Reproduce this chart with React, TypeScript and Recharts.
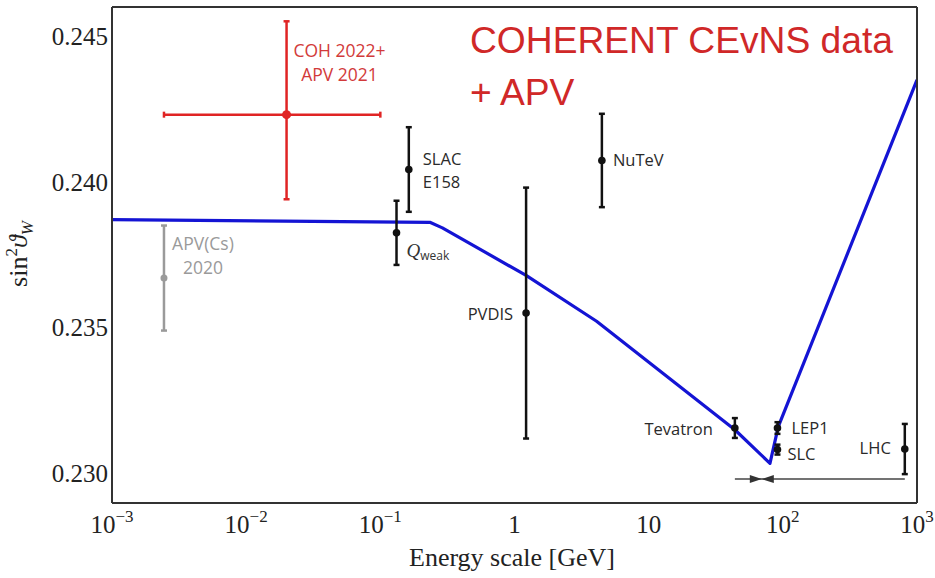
import React from 'react';
import { ComposedChart, XAxis, YAxis, Line, Scatter, ErrorBar, ReferenceDot } from 'recharts';

// axis ticks
const energyTicks = [0.001, 0.01, 0.1, 1, 10, 100, 1000];
const innerEnergyTicks = [0.01, 0.1, 1, 10, 100];
const sinTicks = [0.23, 0.235, 0.24, 0.245];
const minorSinTicks = [
  0.23, 0.231, 0.232, 0.233, 0.234, 0.235, 0.236, 0.237,
  0.238, 0.239, 0.24, 0.241, 0.242, 0.243, 0.244, 0.245,
];

// running sin^2 theta_W prediction
const runE = [0.001, 0.234, 0.29, 1.22, 4.09, 43.9, 80.2, 92.5, 1000];
const runS = [0.23871, 0.23862, 0.23843, 0.2368, 0.23523, 0.23151, 0.23036, 0.23162, 0.2435];

// measurements (black)
const expNames = ['Qweak', 'SLAC E158', 'NuTeV', 'PVDIS', 'Tevatron', 'LEP1', 'SLC', 'LHC'];
const expE = [0.132, 0.163, 4.48, 1.22, 43.9, 91.2, 91.2, 811];
const expS = [0.23826, 0.24043, 0.24074, 0.23551, 0.23157, 0.23157, 0.23083, 0.23085];
const expErr = [0.0011, 0.00145, 0.0016, 0.0043, 0.00034, 0.0002, 0.00017, 0.00086];

// APV(Cs) 2020 (grey)
const apvE = [0.00244];
const apvS = [0.23671];
const apvErr = [0.0018];

// COHERENT 2022 + APV 2021 combined (red)
const cohE = [0.02];
const cohS = [0.24231];
const cohErrDown = [0.0029];
const cohErrUp = [0.0032];
const cohELow = [0.00244];
const cohEHigh = [0.1];

// energy range bar with arrows
const rangeE = [43.9, 811];
const rangeS = [0.22982, 0.22982];
const arrowE = [69.7, 69.7];
const arrowDir = [1, -1];

const runData = runE.map((x, i) => ({ x, y: runS[i] }));
const expData = expE.map((x, i) => ({ x, y: expS[i], err: expErr[i], name: expNames[i] }));
const apvData = apvE.map((x, i) => ({ x, y: apvS[i], err: apvErr[i] }));
const cohData = cohE.map((x, i) => ({
  x,
  y: cohS[i],
  ey: [cohErrDown[i], cohErrUp[i]],
  ex: [x - cohELow[i], cohEHigh[i] - x],
}));
const rangeData = rangeE.map((x, i) => ({ x, y: rangeS[i] }));
const arrowData = arrowE.map((x, i) => ({ x, y: rangeS[0], dir: arrowDir[i] }));

const serif = '"Liberation Serif", "DejaVu Serif", serif';
const sans = '"Open Sans", "DejaVu Sans", sans-serif';
const frame = '#333';
const red = '#e02424';
const grey = '#9a9a9a';

const labelPlace: Record<string, { dx: number; dy: number; anchor: 'start' | 'end' }> = {
  'SLAC E158': { dx: 14, dy: -5, anchor: 'start' },
  NuTeV: { dx: 11, dy: 6, anchor: 'start' },
  PVDIS: { dx: -13, dy: 7, anchor: 'end' },
  Tevatron: { dx: -22, dy: 7, anchor: 'end' },
  LEP1: { dx: 14, dy: 6, anchor: 'start' },
  SLC: { dx: 10, dy: 10, anchor: 'start' },
  LHC: { dx: -14, dy: 5, anchor: 'end' },
};

const EnergyTick = (props: any) => {
  const { x, y, payload } = props;
  const e = Math.round(Math.log10(payload.value));
  const style = { fontFamily: serif, fontSize: 25, fill: '#222' };
  if (e === 0 || e === 1) {
    return (
      <text x={x} y={y + 30} textAnchor="middle" {...style}>
        {e === 0 ? '1' : '10'}
      </text>
    );
  }
  return (
    <text x={x} y={y + 30} textAnchor="middle" {...style}>
      10
      <tspan dy={-11} fontSize={17}>
        {e < 0 ? '\u2212' + -e : String(e)}
      </tspan>
    </text>
  );
};

const SinTick = (props: any) => {
  const { x, y, payload } = props;
  return (
    <text x={x} y={y + 8.5} textAnchor="end" fontFamily={serif} fontSize={25} fill="#222">
      {payload.value.toFixed(3)}
    </text>
  );
};

const dot = (color: string, r: number) => (p: any) => <circle cx={p.cx} cy={p.cy} r={r} fill={color} />;

const ArrowHead = (p: any) => {
  const d = p.payload.dir;
  const len = 12;
  const h = 4;
  return (
    <polygon
      points={`${p.cx},${p.cy} ${p.cx - d * len},${p.cy - h} ${p.cx - d * len},${p.cy + h}`}
      fill="#333"
    />
  );
};

const ExpLabel = (name: string) => (p: any) => {
  if (name === 'Qweak') {
    return (
      <text x={p.cx + 10} y={p.cy + 24} fill="#333">
        <tspan fontFamily={serif} fontStyle="italic" fontSize={19}>Q</tspan>
        <tspan fontFamily={sans} fontSize={12} dy={3}>weak</tspan>
      </text>
    );
  }
  const pl = labelPlace[name];
  const lines = name.split(' ');
  return (
    <text x={p.cx + pl.dx} y={p.cy + pl.dy} textAnchor={pl.anchor} fontFamily={sans} fontSize={16.5} fill="#2a2a2a">
      {lines.map((t, i) => (
        <tspan key={t} x={p.cx + pl.dx} dy={i === 0 ? 0 : 23}>
          {t}
        </tspan>
      ))}
    </text>
  );
};

const StackedLabel = (lines: string[], dx: number, dy: number, color: string) => (p: any) => (
  <text x={p.cx + dx} y={p.cy + dy} textAnchor="middle" fontFamily={sans} fontSize={17.5} fill={color}>
    {lines.map((t, i) => (
      <tspan key={t} x={p.cx + dx} dy={i === 0 ? 0 : 24}>
        {t}
      </tspan>
    ))}
  </text>
);

export default function App() {
  return (
    <div style={{ position: 'absolute', left: 0, top: 0, width: 935, height: 578, background: '#fff' }}>
      <ComposedChart width={935} height={578} margin={{ top: 7, right: 18, bottom: 0, left: 0 }}>
        <XAxis
          type="number"
          dataKey="x"
          scale="log"
          domain={[0.001, 1000]}
          allowDataOverflow
          ticks={energyTicks}
          tick={<EnergyTick />}
          tickLine={false}
          tickSize={0}
          tickMargin={0}
          height={75}
          axisLine={{ stroke: frame, strokeWidth: 2 }}
        />
        <XAxis
          xAxisId="inner"
          type="number"
          scale="log"
          domain={[0.001, 1000]}
          allowDataOverflow
          ticks={innerEnergyTicks}
          mirror
          tick={false}
          tickSize={5}
          tickLine={{ stroke: frame, strokeWidth: 1.5 }}
          axisLine={false}
        />
        <XAxis
          xAxisId="top"
          orientation="top"
          type="number"
          scale="log"
          domain={[0.001, 1000]}
          allowDataOverflow
          ticks={innerEnergyTicks}
          mirror
          tick={false}
          tickSize={5}
          tickLine={{ stroke: frame, strokeWidth: 1.5 }}
          axisLine={{ stroke: frame, strokeWidth: 2 }}
        />
        <YAxis
          type="number"
          dataKey="y"
          domain={[0.229, 0.246]}
          allowDataOverflow
          ticks={sinTicks}
          tick={<SinTick />}
          tickLine={false}
          tickSize={0}
          tickMargin={4}
          width={112}
          axisLine={{ stroke: frame, strokeWidth: 2 }}
        />
        <YAxis
          yAxisId="inner"
          type="number"
          domain={[0.229, 0.246]}
          allowDataOverflow
          ticks={minorSinTicks}
          mirror
          tick={false}
          tickSize={5}
          tickLine={{ stroke: frame, strokeWidth: 1.5 }}
          axisLine={false}
        />
        <YAxis
          yAxisId="right"
          orientation="right"
          type="number"
          domain={[0.229, 0.246]}
          allowDataOverflow
          ticks={minorSinTicks}
          mirror
          tick={false}
          tickSize={5}
          tickLine={{ stroke: frame, strokeWidth: 1.5 }}
          axisLine={{ stroke: frame, strokeWidth: 2 }}
        />

        <Line
          data={runData}
          dataKey="y"
          type="linear"
          stroke="#1414d4"
          strokeWidth={3.2}
          strokeLinejoin="round"
          dot={false}
          isAnimationActive={false}
        />
        <Line
          data={rangeData}
          dataKey="y"
          type="linear"
          stroke="#444"
          strokeWidth={1.5}
          dot={false}
          isAnimationActive={false}
        />
        <Scatter data={arrowData} dataKey="y" shape={ArrowHead} isAnimationActive={false} />

        <Scatter data={apvData} dataKey="y" shape={dot(grey, 3.5)} isAnimationActive={false}>
          <ErrorBar dataKey="err" direction="y" width={3} stroke={grey} strokeWidth={2.5} />
        </Scatter>
        <Scatter data={cohData} dataKey="y" shape={dot(red, 4.5)} isAnimationActive={false}>
          <ErrorBar dataKey="ey" direction="y" width={3} stroke={red} strokeWidth={2.5} />
          <ErrorBar dataKey="ex" direction="x" width={3} stroke={red} strokeWidth={2.5} />
        </Scatter>
        <Scatter data={expData} dataKey="y" shape={dot('#111', 3.8)} isAnimationActive={false}>
          <ErrorBar dataKey="err" direction="y" width={3} stroke="#111" strokeWidth={2.5} />
        </Scatter>

        {expData.map((d) => (
          <ReferenceDot key={d.name} x={d.x} y={d.y} r={1} shape={ExpLabel(d.name)} />
        ))}
        <ReferenceDot
          x={apvE[0]}
          y={apvS[0]}
          r={1}
          shape={StackedLabel(['APV(Cs)', '2020'], 39, -28, grey)}
        />
        <ReferenceDot
          x={cohE[0]}
          y={cohS[0]}
          r={1}
          shape={StackedLabel(['COH 2022+', 'APV 2021'], 53, -58, '#d23a3a')}
        />
      </ComposedChart>

      <svg width={935} height={578} style={{ position: 'absolute', left: 0, top: 0, pointerEvents: 'none' }}>
        <text x={470} y={53} fontFamily='"Liberation Sans", Arial, sans-serif' fontSize={37.2} fill="#d02828">
          COHERENT CEvNS data
        </text>
        <text x={470} y={105} fontFamily='"Liberation Sans", Arial, sans-serif' fontSize={37.2} fill="#d02828">
          + APV
        </text>
        <text x={512} y={566} textAnchor="middle" fontFamily={serif} fontSize={26} fill="#222">
          Energy scale [GeV]
        </text>
        <text
          x={27}
          y={254}
          transform="rotate(-90, 27, 254)"
          textAnchor="middle"
          fontFamily={serif}
          fontSize={26}
          fill="#222"
        >
          sin
          <tspan dy={-10} fontSize={17}>2</tspan>
          <tspan dy={10} fontStyle="italic">{'\u03D1'}</tspan>
          <tspan dy={6} fontSize={17} fontStyle="italic">W</tspan>
        </text>
      </svg>
    </div>
  );
}
